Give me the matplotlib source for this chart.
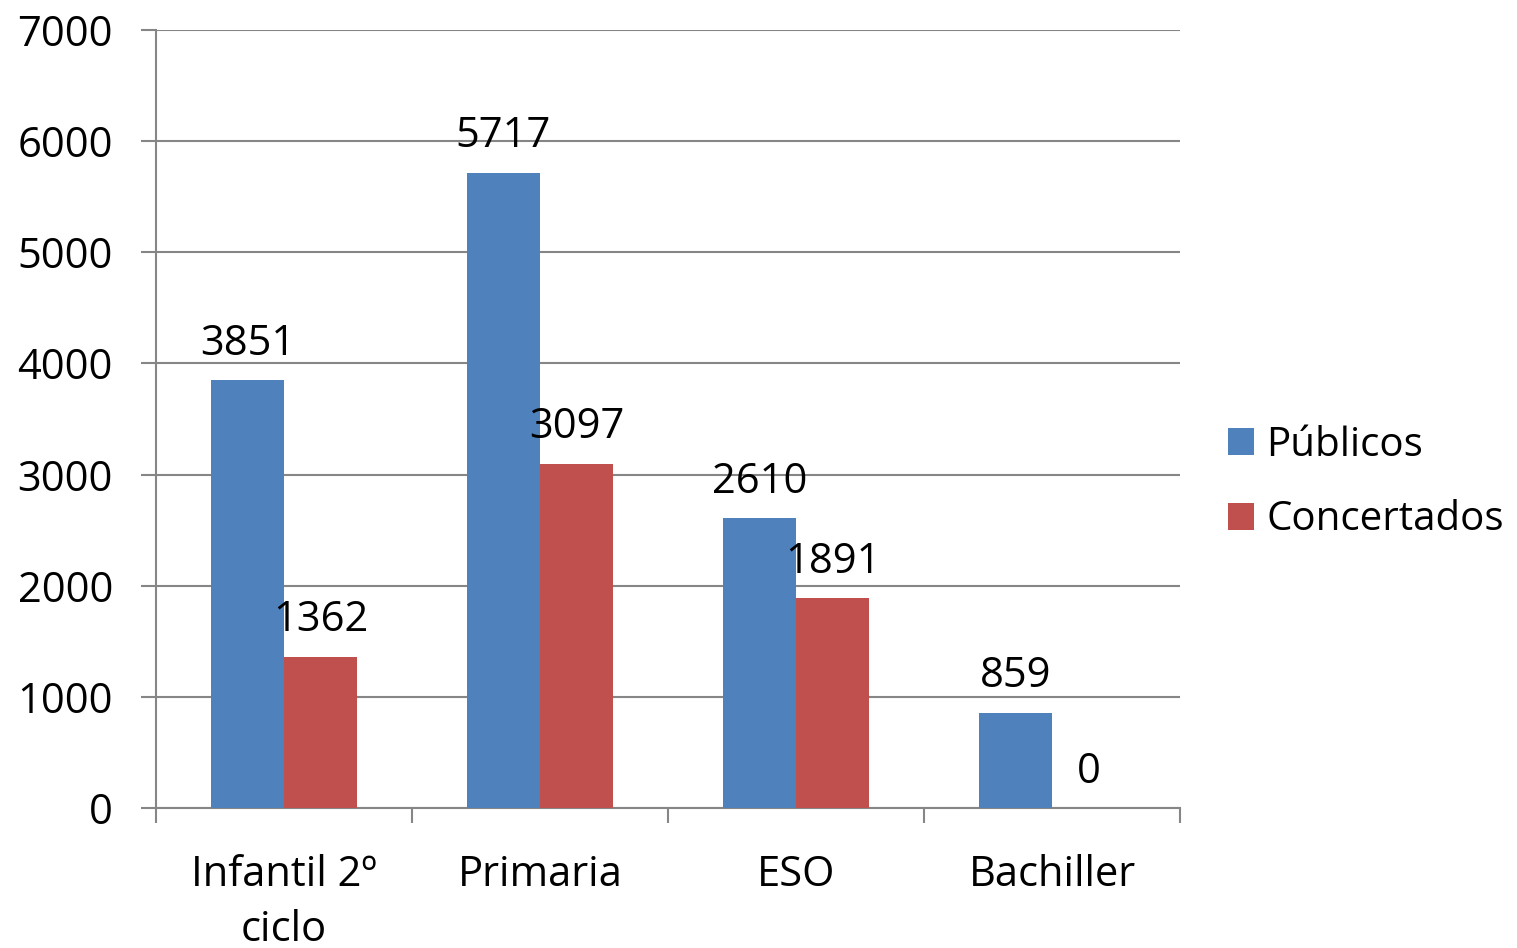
import matplotlib.pyplot as plt
import numpy as np

categorias = ["Infantil 2º\nciclo", "Primaria", "ESO", "Bachiller"]
publicos = [3851, 5717, 2610, 859]
concertados = [1362, 3097, 1891, 0]

plt.rcParams['font.family'] = ['Open Sans', 'DejaVu Sans']

azul = "#4F81BD"
rojo = "#C0504D"
gris = "#868686"
fs = 30

fig = plt.figure(figsize=(15.17, 9.48), dpi=100)
ax = fig.add_axes([0.1028, 0.1477, 0.6751, 0.8207])

x = np.arange(len(categorias))
ancho = 0.285

b1 = ax.bar(x - ancho / 2, publicos, width=ancho, color=azul, label="Públicos", zorder=3)
b2 = ax.bar(x + ancho / 2, concertados, width=ancho, color=rojo, label="Concertados", zorder=3)

# etiquetas de valor sobre cada barra
for barras, valores in ((b1, publicos), (b2, concertados)):
    for rect, v in zip(barras, valores):
        ax.annotate(str(v), (rect.get_x() + rect.get_width() / 2, v),
                    xytext=(0, 11), textcoords="offset points",
                    ha="center", va="bottom", fontsize=fs, zorder=4)

ax.set_xlim(-0.5, len(categorias) - 0.5)
ax.set_ylim(0, 7000)
ax.set_yticks(range(0, 7001, 1000))
ax.yaxis.grid(True, color=gris, linewidth=1.5, zorder=0)

# marcas entre categorías, rótulos centrados
ax.set_xticks(np.arange(-0.5, len(categorias), 1))
ax.set_xticklabels([])
ax.set_xticks(x, minor=True)
ax.set_xticklabels(categorias, minor=True, fontsize=fs, linespacing=1.4)
ax.tick_params(axis="x", which="major", length=11, width=1.5, color=gris)
ax.tick_params(axis="x", which="minor", length=0, pad=33)
ax.tick_params(axis="y", length=11, width=1.5, color=gris, labelsize=fs, pad=20)

for lado in ("top", "right"):
    ax.spines[lado].set_visible(False)
for lado in ("left", "bottom"):
    ax.spines[lado].set_color(gris)
    ax.spines[lado].set_linewidth(1.5)

fig.legend(handles=[b1, b2], labels=["Públicos", "Concertados"],
           loc="center left", bbox_to_anchor=(0.8095, 0.4905), frameon=False,
           borderaxespad=0, borderpad=0,
           fontsize=29, handlelength=0.65, handleheight=0.65, handletextpad=0.3,
           labelspacing=0.84)

fig.savefig("out.png", dpi=100)
